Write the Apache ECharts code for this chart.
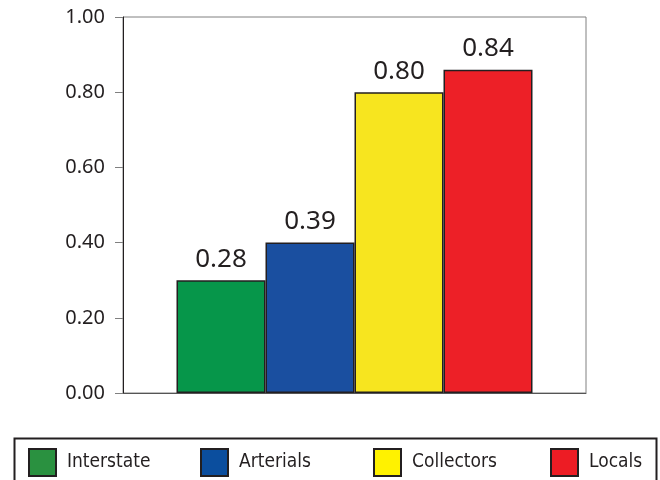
<!DOCTYPE html>
<html>
<head>
<meta charset="utf-8">
<script src="https://cdn.jsdelivr.net/npm/echarts@6/dist/echarts.min.js"></script>
<style>html,body{margin:0;padding:0;background:#fff;}#c{width:660px;height:480px;}</style>
</head>
<body>
<div id="c"></div>
<script>
var categories = ['Interstate', 'Arterials', 'Collectors', 'Locals'];
var barValues = [0.30, 0.40, 0.80, 0.86];
var barLabels = ['0.28', '0.39', '0.80', '0.84'];
var colors = ['#06964a', '#1a4fa0', '#f7e51f', '#ed2027'];
var legendColors = ['#2a9140', '#0b4e9e', '#fff200', '#ed1c24'];
var yTicks = [0, 0.2, 0.4, 0.6, 0.8, 1.0];
var legendLeft = [28, 200, 373, 550];

var chart = echarts.init(document.getElementById('c'));
var series = categories.map(function (name, i) {
  return {
    name: name,
    type: 'bar',
    data: [barValues[i]],
    barWidth: 89,
    barGap: '0%',
    itemStyle: { color: colors[i], borderColor: '#231f20', borderWidth: 1.5 },
    label: {
      show: true, position: 'top', distance: 8,
      formatter: function () { return barLabels[i]; },
      fontFamily: 'Noto Sans', fontSize: 26, color: '#231f20'
    }
  };
});
var legends = categories.map(function (name, i) {
  return {
    data: [{ name: name, itemStyle: { color: legendColors[i], borderColor: '#231f20', borderWidth: 2 } }],
    left: legendLeft[i], top: 448, padding: 0,
    itemWidth: 27, itemHeight: 27,
    icon: 'rect',
    textStyle: { fontFamily: 'DejaVu Sans Condensed, sans-serif', fontSize: 19, color: '#231f20', padding: [5, 0, 0, 6] },
    selectedMode: false
  };
});
chart.setOption({
  animation: false,
  grid: { left: 123, top: 17, width: 463, height: 376, show: true, borderColor: '#808080', borderWidth: 1, backgroundColor: 'transparent' },
  xAxis: {
    type: 'category', data: [''],
    axisLine: { lineStyle: { color: '#555', width: 1 } },
    axisTick: { show: false }, axisLabel: { show: false }
  },
  yAxis: {
    type: 'value', min: 0, max: 1, interval: 0.2,
    axisLine: { show: true, lineStyle: { color: '#231f20', width: 1 } },
    axisTick: { show: true, length: 8, lineStyle: { color: '#808080' } },
    splitLine: { show: false },
    axisLabel: {
      margin: 18, fontFamily: 'Noto Sans', fontSize: 20, color: '#231f20',
      formatter: function (v) { return v.toFixed(2); }
    }
  },
  legend: legends,
  graphic: [{
    type: 'rect', left: 12, top: 436,
    shape: { width: 642, height: 60 },
    style: { fill: 'none', stroke: '#231f20', lineWidth: 2 }
  }],
  series: series
});
</script>
</body>
</html>
